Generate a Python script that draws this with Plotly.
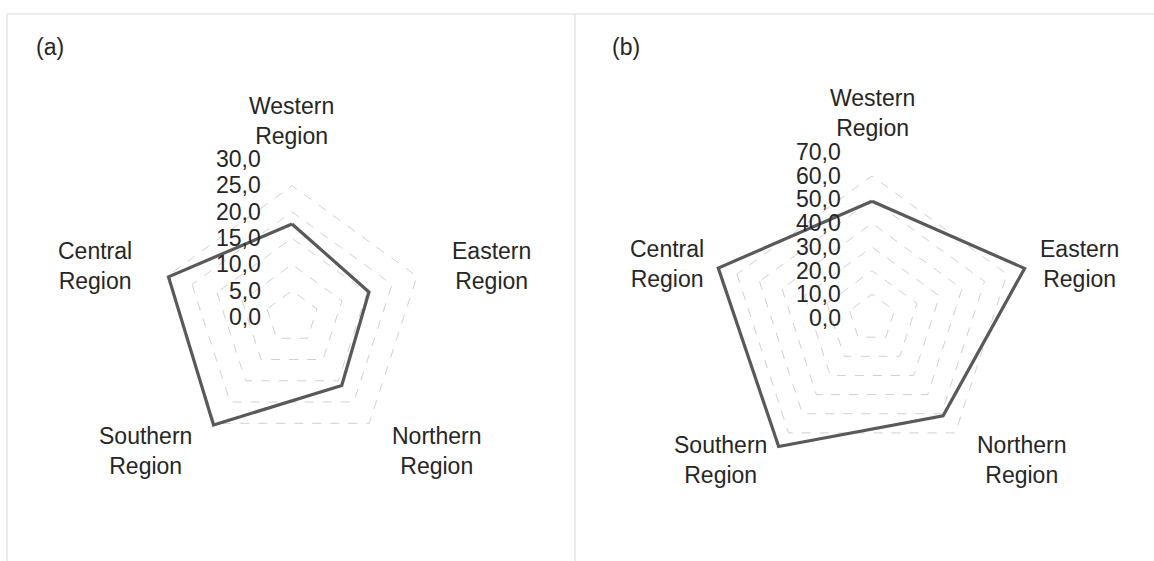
import math
import plotly.graph_objects as go

# Regions, listed clockwise starting from the top of each radar
regions = ["Western Region", "Eastern Region", "Northern Region",
           "Southern Region", "Central Region"]

# Panel (a) values
values_a = [17.7, 15.4, 16.1, 25.4, 24.7]
# Panel (b) values
values_b = [49.3, 67.8, 51.1, 67.1, 68.3]

ticks_a = [0, 5, 10, 15, 20, 25, 30]
ticks_b = [0, 10, 20, 30, 40, 50, 60, 70]

W, H = 1154, 561
FONT = "Liberation Sans, Arial, sans-serif"
FS = 23
TEXT = "#262626"
GRID = "#d0d0d0"
LINE = "#595959"

# Radar centres and radii in pixels
panels = [
    dict(name="polar", cx=292, cy=317, R=158, rmax=30, ticks=ticks_a, vals=values_a, pad=8),
    dict(name="polar2", cx=872, cy=318, R=166, rmax=70, ticks=ticks_b, vals=values_b, pad=9),
]

fig = go.Figure()


def polar_layout(p):
    return dict(
        domain=dict(x=[(p["cx"] - p["R"]) / W, (p["cx"] + p["R"]) / W],
                    y=[1 - (p["cy"] + p["R"]) / H, 1 - (p["cy"] - p["R"]) / H]),
        gridshape="linear",
        bgcolor="rgba(0,0,0,0)",
        radialaxis=dict(
            range=[0, p["rmax"] * 1.002], tickvals=p["ticks"],
            angle=90, showticklabels=False,
            showline=False, ticks="",
            gridcolor=GRID, griddash="dash", gridwidth=1,
        ),
        angularaxis=dict(
            rotation=90, direction="clockwise",
            showgrid=False, showline=False, ticks="", showticklabels=False,
        ),
    )


def fmt(v):
    # one decimal, comma as decimal separator
    return f"{v:.1f}".replace(".", ",")


layout_polars = {}
for p in panels:
    fig.add_trace(go.Scatterpolar(
        r=p["vals"] + p["vals"][:1],
        theta=regions + regions[:1],
        mode="lines",
        line=dict(color=LINE, width=3.2),
        subplot=p["name"],
        showlegend=False,
    ))
    layout_polars[p["name"]] = polar_layout(p)

    # Value scale, right-aligned just left of the vertical spoke
    for t in p["ticks"]:
        ty = p["cy"] - p["R"] * t / p["rmax"]
        fig.add_annotation(
            text=fmt(t), xref="paper", yref="paper",
            x=(p["cx"] - 29) / W, y=1 - ty / H, xanchor="right", yanchor="middle",
            showarrow=False, font=dict(family=FONT, size=FS, color=TEXT),
        )

    # Category labels just outside each vertex, centre-aligned text
    n = len(regions)
    for i, reg in enumerate(regions):
        ang = math.radians(90 - 360 * i / n)
        rr = p["R"] + p["pad"]
        px = p["cx"] + rr * math.cos(ang)
        py = p["cy"] - rr * math.sin(ang)
        if i == 0:
            xa, ya = "center", "bottom"
        elif math.cos(ang) > 0:
            xa, ya = "left", "middle"
        else:
            xa, ya = "right", "middle"
        fig.add_annotation(
            text=reg.replace(" ", "<br>"), xref="paper", yref="paper",
            x=px / W, y=1 - py / H, xanchor=xa, yanchor=ya, align="center",
            showarrow=False, font=dict(family=FONT, size=FS, color=TEXT),
        )

fig.update_layout(
    width=W, height=H,
    margin=dict(l=0, r=0, t=0, b=0),
    paper_bgcolor="white",
    font=dict(family=FONT, color=TEXT),
    **layout_polars,
)

# Panel frames
frame = dict(color="#d9d9d9", width=1)
fig.add_shape(type="line", xref="paper", yref="paper", x0=7/W, x1=1, y0=1-14/H, y1=1-14/H, line=frame)
fig.add_shape(type="line", xref="paper", yref="paper", x0=7/W, x1=7/W, y0=0, y1=1-14/H, line=frame)
fig.add_shape(type="line", xref="paper", yref="paper", x0=575/W, x1=575/W, y0=0, y1=1-14/H, line=frame)

# Panel letters
for label, x in (("(a)", 34), ("(b)", 610)):
    fig.add_annotation(text=label, xref="paper", yref="paper",
                       x=x/W, y=1-47/H, xanchor="left", yanchor="middle",
                       showarrow=False, font=dict(family=FONT, size=FS, color=TEXT))

fig.write_html("out.html")
